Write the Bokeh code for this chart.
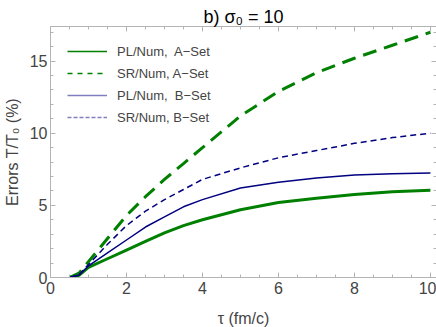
from bokeh.plotting import figure
from bokeh.models import Range1d, LinearAxis, Legend, LegendItem, Title, CustomJSTickFormatter
from bokeh.embed import file_html
from bokeh.resources import INLINE

tau = [0.5, 0.75, 1.0, 1.5, 2.0, 2.5, 3.0, 3.5, 4.0, 5.0, 6.0, 7.0, 8.0, 9.0, 10.0]
pl_a = [0.0, 0.15, 0.7, 1.3, 1.9, 2.5, 3.1, 3.6, 4.0, 4.7, 5.2, 5.5, 5.75, 5.95, 6.05]
sr_a = [0.0, 0.3, 1.1, 2.7, 4.3, 5.6, 6.8, 7.9, 9.0, 11.2, 12.9, 14.2, 15.2, 16.1, 17.0]
pl_b = [0.0, 0.15, 0.8, 1.7, 2.6, 3.5, 4.2, 4.9, 5.4, 6.2, 6.6, 6.9, 7.1, 7.2, 7.25]
sr_b = [0.0, 0.2, 0.9, 2.3, 3.6, 4.6, 5.4, 6.1, 6.8, 7.6, 8.3, 8.8, 9.3, 9.7, 10.0]

labels = ["PL/Num,  A\u2212Set", "SR/Num, A\u2212Set", "PL/Num,  B\u2212Set", "SR/Num, B\u2212Set"]
title_text = "b) \u03c3\u2080 = 10"
xlabel = "\u03c4 (fm/c)"
ylabel = "Errors T/T\u2080 (%)"

GREEN = "#008000"
BLUE = "#000080"
FRAME = "#b4b4b4"
FONT = "Liberation Sans"

p = figure(frame_width=386, frame_height=251, output_backend="svg", toolbar_location=None,
           x_range=Range1d(0, 10.16), y_range=Range1d(0, 17.4),
           min_border_left=44, min_border_right=0, min_border_top=26, min_border_bottom=40)
p.title = Title(text=title_text, text_font=FONT, text_font_size="18px",
                text_font_style="normal", align="center", text_color="black",
                standoff=0, offset=0)
p.xgrid.visible = False
p.ygrid.visible = False
p.outline_line_color = None

p.xaxis.axis_label = xlabel
p.yaxis.axis_label = ylabel
for ax in (p.xaxis[0], p.yaxis[0]):
    ax.axis_label_text_font = FONT
    ax.axis_label_text_font_size = "16px"
    ax.axis_label_text_font_style = "normal"
    ax.major_label_text_font = FONT
    ax.major_label_text_font_size = "16px"
    ax.axis_line_color = FRAME
    ax.major_tick_line_color = FRAME
    ax.minor_tick_line_color = FRAME
    ax.major_tick_in = 5
    ax.major_tick_out = 0
    ax.minor_tick_in = 3
    ax.minor_tick_out = 0
p.xaxis.ticker.desired_num_ticks = 6
p.xaxis[0].ticker.num_minor_ticks = 4
p.yaxis[0].ticker.num_minor_ticks = 5
p.xaxis.axis_label_standoff = 13
p.xaxis.major_label_standoff = 4
p.yaxis.axis_label_standoff = 6
p.yaxis.major_label_standoff = 3

blank = CustomJSTickFormatter(code="return ''")
def frame_axis(nminor):
    ax = LinearAxis(formatter=blank, axis_line_color=FRAME,
                    major_tick_line_color=FRAME, minor_tick_line_color=FRAME,
                    major_tick_in=5, major_tick_out=0, minor_tick_in=3, minor_tick_out=0,
                    major_label_standoff=0, axis_label_standoff=0,
                    major_label_text_font_size="1px")
    ax.ticker.num_minor_ticks = nminor
    return ax
p.add_layout(frame_axis(4), "above")
p.add_layout(frame_axis(5), "right")

p.line(tau, pl_a, line_color=GREEN, line_width=3)
p.line(tau, sr_a, line_color=GREEN, line_width=3, line_dash="14 8")
p.line(tau, pl_b, line_color=BLUE, line_width=1.5)
p.line(tau, sr_b, line_color=BLUE, line_width=1.5, line_dash="6 4")

# legend-key renderers: a single data point each, so they draw nothing on the plot
lg1 = p.line(x=tau[:1], y=pl_a[:1], line_color=GREEN, line_width=1.5)
lg2 = p.line(x=tau[:1], y=sr_a[:1], line_color=GREEN, line_width=1.5, line_dash="5 5")
lg3 = p.line(x=tau[:1], y=pl_b[:1], line_color="#7f7fbf", line_width=1.5)
lg4 = p.line(x=tau[:1], y=sr_b[:1], line_color="#7f7fbf", line_width=1.5, line_dash="4 2")

legend = Legend(items=[LegendItem(label=l, renderers=[r]) for l, r in zip(labels, [lg1, lg2, lg3, lg4])],
                location=(17, 150), padding=0, margin=0, spacing=2,
                glyph_width=40, glyph_height=20, label_height=20, label_standoff=10,
                label_text_font=FONT, label_text_font_size="13px",
                border_line_color=None, background_fill_alpha=0)
p.add_layout(legend, "center")

open("out.html", "w").write(file_html(p, INLINE))
